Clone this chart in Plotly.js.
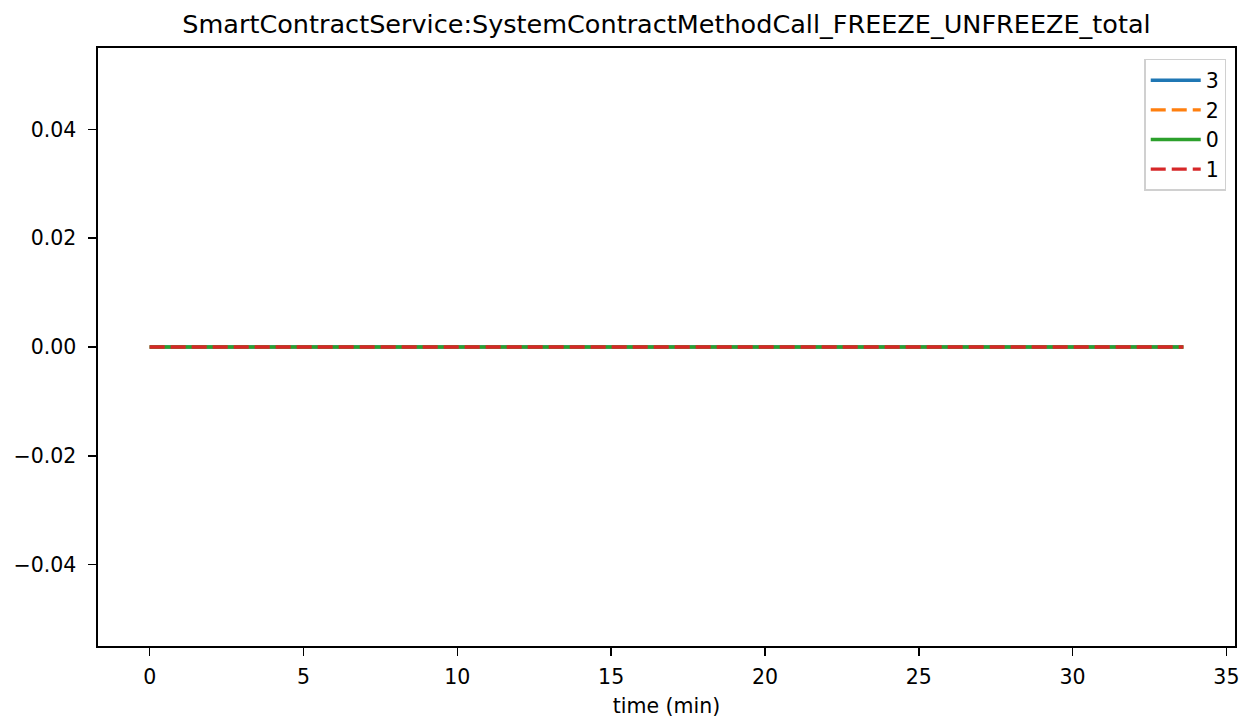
<!DOCTYPE html>
<html>
<head>
<meta charset="utf-8">
<script src="https://cdn.plot.ly/plotly-3.0.1.min.js"></script>
<style>html,body{margin:0;padding:0;background:#fff;}#chart{width:1243px;height:719px;}</style>
</head>
<body>
<div id="chart"></div>
<script>
const chartTitle = "SmartContractService:SystemContractMethodCall_FREEZE_UNFREEZE_total";
const timeMin = [0, 1.5, 3, 4.5, 6, 7.5, 9, 10.5, 12, 13.5, 15, 16.5, 18, 19.5, 21, 22.5, 24, 25.5, 27, 28.5, 30, 31.5, 33, 33.6];
const series3 = [0, 0, 0, 0, 0, 0, 0, 0, 0, 0, 0, 0, 0, 0, 0, 0, 0, 0, 0, 0, 0, 0, 0, 0];
const series2 = [0, 0, 0, 0, 0, 0, 0, 0, 0, 0, 0, 0, 0, 0, 0, 0, 0, 0, 0, 0, 0, 0, 0, 0];
const series0 = [0, 0, 0, 0, 0, 0, 0, 0, 0, 0, 0, 0, 0, 0, 0, 0, 0, 0, 0, 0, 0, 0, 0, 0];
const series1 = [0, 0, 0, 0, 0, 0, 0, 0, 0, 0, 0, 0, 0, 0, 0, 0, 0, 0, 0, 0, 0, 0, 0, 0];
const seriesNames = ["3", "2", "0", "1"];
const xTicks = [0, 5, 10, 15, 20, 25, 30, 35];
const yTicks = [-0.04, -0.02, 0, 0.02, 0.04];
const yTickText = ["\u22120.04", "\u22120.02", "0.00", "0.02", "0.04"];

const styles = [
  {color: "#1f77b4", dash: "solid"},
  {color: "#ff7f0e", dash: "15px,6px"},
  {color: "#2ca02c", dash: "solid"},
  {color: "#d62728", dash: "15px,6px"}
];
const allY = [series3, series2, series0, series1];
const traces = allY.map((y, i) => ({
  x: timeMin, y: y, name: seriesNames[i], type: "scatter", mode: "lines",
  legendgroup: "g" + i,
  line: {color: styles[i].color, dash: styles[i].dash, width: 3.4}
}));

const font = {family: "DejaVu Sans, sans-serif", color: "#000"};
const layout = {
  width: 1243, height: 719,
  margin: {l: 98, r: 8, t: 48, b: 73, pad: 0},
  paper_bgcolor: "#fff", plot_bgcolor: "#fff",
  font: Object.assign({size: 20}, font),
  title: {text: chartTitle, font: Object.assign({size: 25.5}, font),
          xref: "paper", x: 0.5, xanchor: "center", yref: "container", y: 0.966, yanchor: "middle"},
  xaxis: {
    range: [-1.68, 35.28], tickvals: xTicks, ticktext: xTicks.map(String),
    showgrid: false, zeroline: false, showline: true, mirror: true, linecolor: "#000", linewidth: 1.6,
    ticks: "outside", ticklen: 8, tickwidth: 1.6, tickcolor: "#000", ticklabelstandoff: 4,
    tickfont: Object.assign({size: 20.5}, font),
    title: {text: "time (min)", font: Object.assign({size: 20.5}, font), standoff: 10}
  },
  yaxis: {
    range: [-0.055, 0.055], tickvals: yTicks, ticktext: yTickText,
    showgrid: false, zeroline: false, showline: true, mirror: true, linecolor: "#000", linewidth: 1.6,
    ticks: "outside", ticklen: 8, tickwidth: 1.6, tickcolor: "#000", ticklabelstandoff: 8,
    tickfont: Object.assign({size: 20.5}, font)
  },
  showlegend: true,
  legend: {
    x: 0.9922, xanchor: "right", y: 0.982, yanchor: "top",
    bgcolor: "rgba(255,255,255,0.8)", bordercolor: "#d0d0d0", borderwidth: 1.6,
    font: Object.assign({size: 20.5}, font), tracegroupgap: 7, traceorder: "normal",
    itemwidth: 50
  }
};
Plotly.newPlot("chart", traces, layout, {displayModeBar: false, staticPlot: true});
</script>
</body>
</html>
